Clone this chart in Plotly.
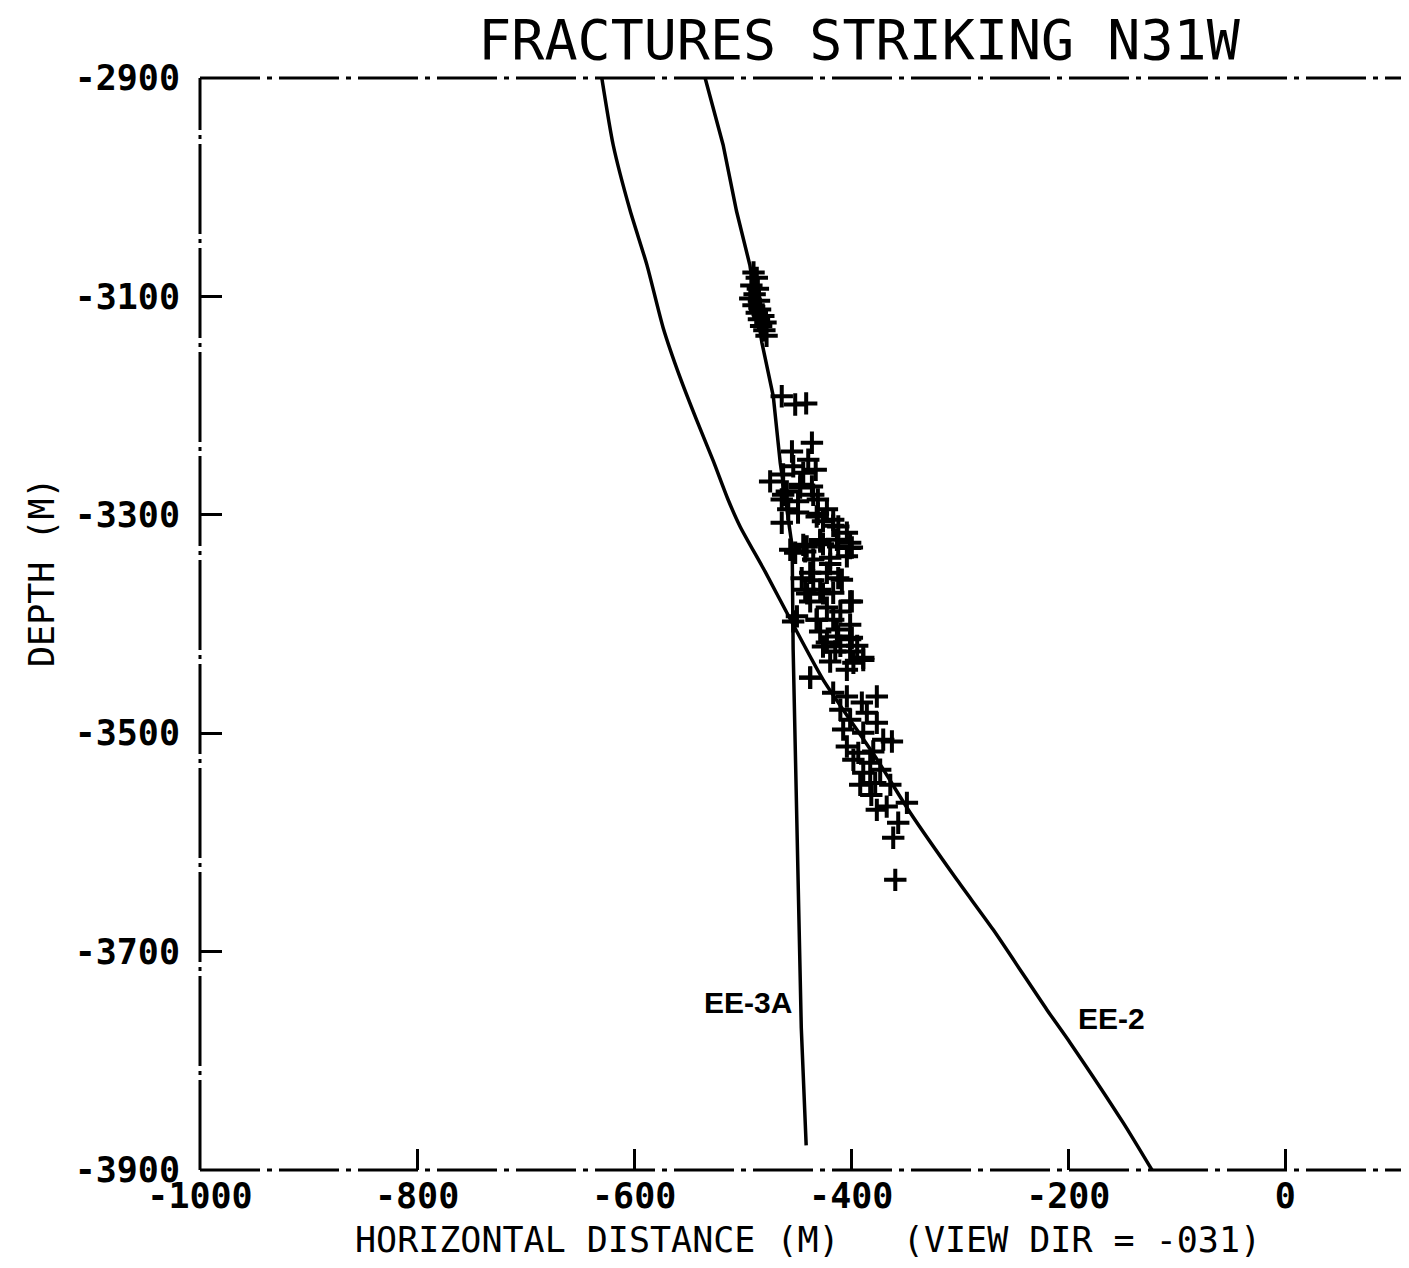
import plotly.graph_objects as go

# ---------------- data ----------------
x_ticks = [-1000, -800, -600, -400, -200, 0]
x_tick_labels = ["-1000", "-800", "-600", "-400", "-200", "0"]
y_ticks = [-3900, -3700, -3500, -3300, -3100, -2900]
y_tick_labels = ["-3900", "-3700", "-3500", "-3300", "-3100", "-2900"]

# EE-2 well trace (horizontal distance, depth)
ee2_x = [-629.8, -619.4, -603.7, -588.3, -573.3, -557.6, -542.2, -527.2, -513.4, -502.3, -479.3, -454.4,
         -425.8, -376.0, -345.6, -302.6, -269.1, -219.6, -198.2, -149.3, -122.9]
ee2_y = [-2900.0, -2960.9, -3021.4, -3070.9, -3128.6, -3174.4, -3213.8, -3250.4, -3286.2, -3310.9, -3352.1, -3398.9,
         -3451.1, -3524.4, -3572.9, -3634.3, -3680.1, -3753.4, -3783.6, -3856.9, -3900.0]

# EE-3A well trace
ee3a_x = [-534.6, -518.0, -505.7, -493.4, -482.3, -471.8, -465.4, -454.4, -453.5, -448.8, -446.0, -441.5]
ee3a_y = [-2900.0, -2961.3, -3021.8, -3071.3, -3142.3, -3191.5, -3252.3, -3329.0, -3423.6, -3650.0, -3770.0, -3877.4]

# fracture intersections (crosses)
frac_x = [
    -490, -487, -492, -486, -489, -493, -485, -490, -484, -487, -481, -485, -479, -483, -480, -478,
    -464, -451.6, -441.5,
    -436.2, -454.6, -439.6, -453.4, -474.7, -462.7, -444.2, -432.7, -459.3, -447, -435, -464, -449,
    -430.7, -458, -422.4, -431.8, -416.6, -464, -411.9, -404, -444.2, -428.6, -413.2, -401,
    -456.2, -441, -426, -412, -399.4, -435, -419.4, -404, -437.8, -422.4, -408.6, -442.4, -428.6,
    -416.6, -399.4, -437.8, -422.4, -410, -453.5, -431.8, -416.6, -401, -428.6, -412, -399.4,
    -426, -414.7, -401, -388.9, -419.4, -398,
    -437.8, -416.6, -404, -390.2, -376.4, -410, -385.6, -401, -376.4, -407.4, -388.9, -370.5,
    -362.5, -404, -393.5, -379.7, -398, -382.5, -388.9, -373.3, -391.7, -377.9, -364, -381.5,
    -348.7, -376.4, -367.3, -356.7, -361.3, -359.4, -382.5,
    -447, -436.2, -462.7, -449, -430.7, -426, -416.6, -401, -451.6, -442.4, -428.6, -419.4,
    -445.6, -435, -412, -401, -440.6, -426, -450, -431.8, -413.2, -401, -422.4, -410, -394.5,
    -388.9, -404, -437.8,
]
frac_y = [
    -3078, -3083, -3090, -3093, -3098, -3102, -3104, -3108, -3112, -3115, -3118, -3121, -3124, -3127, -3131, -3136,
    -3191.5, -3199, -3198,
    -3234, -3242, -3249.5, -3255.6, -3269.4, -3263, -3261.4, -3258.7, -3278.6, -3275, -3281.6, -3286, -3287.7,
    -3286, -3295, -3295, -3301.5, -3304.5, -3307.3, -3310.6, -3316.4, -3327.5, -3324.4, -3322.8, -3325.5,
    -3332, -3329, -3327, -3329, -3330, -3341, -3339.3, -3338, -3353, -3353, -3359.5, -3368.6, -3368.6,
    -3371.4, -3379.3, -3379.3, -3385, -3388.5, -3397.6, -3396, -3396, -3400.7, -3406.8, -3411.4, -3412.6,
    -3420.6, -3425.2, -3425.2, -3431, -3434.3, -3435.5,
    -3449.3, -3463, -3466.4, -3472, -3466.4, -3478.5, -3481.3, -3487.7, -3490.5, -3496.7, -3499.6, -3505.9,
    -3507.6, -3512.2, -3518, -3516.8, -3524.3, -3527, -3536.3, -3533.5, -3547.3, -3545.5, -3547.3, -3556.5,
    -3563.8, -3570.2, -3567.2, -3582, -3595.8, -3634.3, -3545.5,
    -3272.4, -3274, -3281.6, -3298, -3299, -3306, -3310, -3330.4, -3334.7, -3333.5, -3323, -3345,
    -3358, -3360, -3358, -3379.3, -3372, -3372, -3393, -3396, -3405, -3414, -3417, -3420, -3420,
    -3433, -3442, -3449,
]

labels_text = ["EE-3A", "EE-2"]
labels_x = [-495.5, -160.4]
labels_y = [-3746.3, -3760.9]

title_text = "FRACTURES STRIKING N31W"
x_title = "HORIZONTAL DISTANCE (M)\u00a0\u00a0\u00a0(VIEW DIR = -031)"
y_title = "DEPTH (M)"

# ---------------- figure ----------------
MONO = "DejaVu Sans Mono"
FIG_W, FIG_H = 1400, 1252
PL, PT, PW, PH = 192, 70, 1208, 1092   # plot area in figure pixels (page offset 8px)

fig = go.Figure()
fig.add_trace(go.Scatter(x=ee2_x, y=ee2_y, mode="lines",
                         line=dict(color="black", width=3.5, shape="spline", smoothing=0.6),
                         showlegend=False, hoverinfo="skip"))
fig.add_trace(go.Scatter(x=ee3a_x, y=ee3a_y, mode="lines",
                         line=dict(color="black", width=3.5), showlegend=False, hoverinfo="skip"))
fig.add_trace(go.Scatter(x=frac_x, y=frac_y, mode="markers",
                         marker=dict(symbol="cross-thin", size=16,
                                     line=dict(color="black", width=4)),
                         showlegend=False))

for t, xx, yy in zip(labels_text, labels_x, labels_y):
    fig.add_annotation(x=xx, y=yy, text=t, showarrow=False,
                       font=dict(family="Liberation Sans, Arial", size=30, color="black", weight="bold"))

# frame (dash-dot plotter lines)
fig.add_shape(type="line", xref="paper", yref="paper", x0=0, x1=0, y0=0, y1=1,
              line=dict(color="black", width=3, dash="90px,5px,4px,5px"))
fig.add_shape(type="line", xref="paper", yref="paper", x0=0, x1=1, y0=1, y1=1,
              line=dict(color="black", width=3, dash="60px,7px,5px,7px"))
fig.add_shape(type="line", xref="paper", yref="paper", x0=0, x1=1, y0=0, y1=0,
              line=dict(color="black", width=3, dash="60px,7px,5px,7px"))


def px_to_paper(px, py):
    # page pixel -> paper fraction of the plot area (plot area at page x 200..1408, y 78..1170)
    return (px - 200) / PW, (1170 - py) / PH


ax, ay = px_to_paper(808, 1240)
fig.add_annotation(xref="paper", yref="paper", x=ax, y=ay,
                   text=x_title, showarrow=False, xanchor="center", yanchor="middle",
                   font=dict(family=MONO, size=35, color="black"))
ax, ay = px_to_paper(42, 572)
fig.add_annotation(xref="paper", yref="paper", x=ax, y=ay,
                   text=y_title, showarrow=False, textangle=-90, xanchor="center", yanchor="middle",
                   font=dict(family=MONO, size=35, color="black"))

fig.update_layout(
    width=FIG_W, height=FIG_H,
    margin=dict(l=PL, r=FIG_W - PL - PW, t=PT, b=FIG_H - PT - PH),
    paper_bgcolor="white", plot_bgcolor="white",
    title=dict(text=title_text, xref="container", yref="container",
               x=(859 - 8) / FIG_W, y=1 - (40 - 8) / FIG_H,
               xanchor="center", yanchor="middle",
               font=dict(family=MONO, size=55, color="black")),
    xaxis=dict(range=[-1000, 113], tickvals=x_ticks, ticktext=x_tick_labels,
               ticks="inside", ticklen=21, tickwidth=3, tickcolor="black",
               showgrid=False, zeroline=False, showline=False,
               tickfont=dict(family=MONO, size=35, color="black", weight="bold"),
               ticklabelstandoff=2),
    yaxis=dict(range=[-3900, -2900], tickvals=y_ticks, ticktext=y_tick_labels,
               ticks="inside", ticklen=22, tickwidth=3, tickcolor="black",
               showgrid=False, zeroline=False, showline=False,
               tickfont=dict(family=MONO, size=35, color="black", weight="bold"),
               ticklabelstandoff=19),
)

fig.write_html("out.html")
